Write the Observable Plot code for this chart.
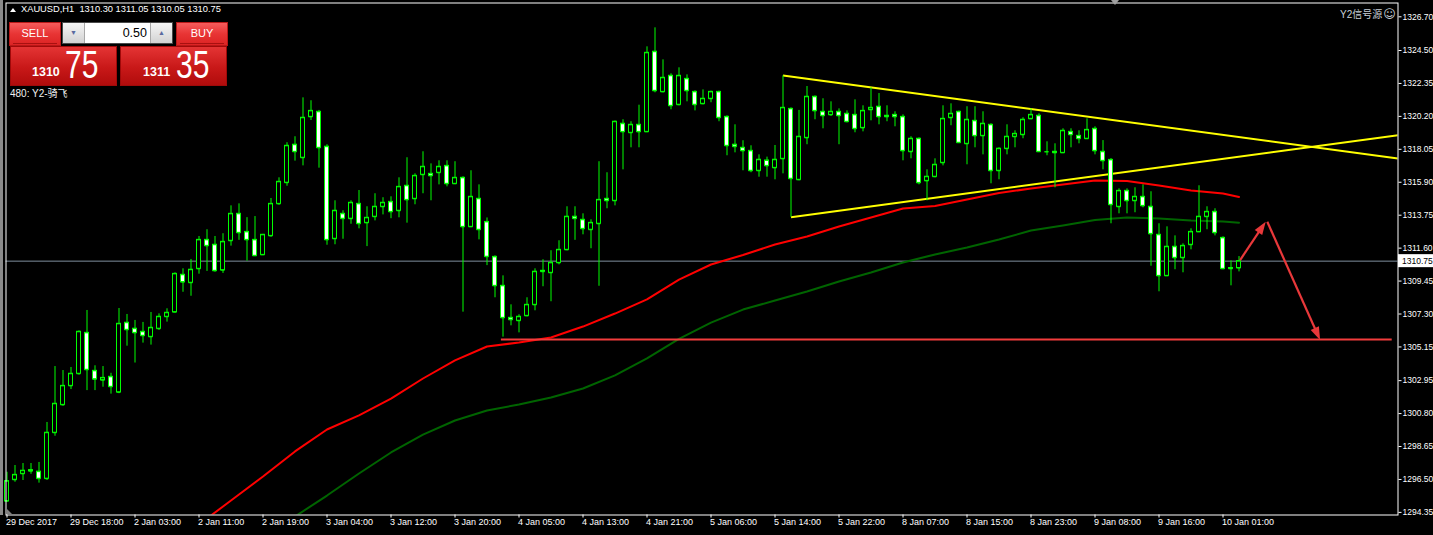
<!DOCTYPE html>
<html><head><meta charset="utf-8">
<script src="https://cdn.jsdelivr.net/npm/d3@7"></script>
<script src="https://cdn.jsdelivr.net/npm/@observablehq/plot@0.6"></script>
<style>
html,body{margin:0;padding:0;background:#000;}
#wrap{position:relative;width:1433px;height:535px;overflow:hidden;background:#000;font-family:'Liberation Sans',Arial,sans-serif;}
#chart svg{display:block}
.ov{position:absolute;white-space:pre;}
.btn{position:absolute;top:22px;height:24px;box-sizing:border-box;background:linear-gradient(#f65c5c,#e83434 50%,#dc2424);border:1px solid #b81818;color:#fff;font-size:11px;text-align:center;line-height:21px;}
.btn .ln{position:absolute;left:3px;right:3px;bottom:1px;height:1px;background:#a81010;}
.big{position:absolute;top:46px;height:40px;width:107px;box-sizing:border-box;background:linear-gradient(#e43434,#c81818 55%,#b00c0c);border:1px solid #a00a0a;color:#fff;}
.big .s{position:absolute;top:18.5px;font:bold 12.5px 'Liberation Sans',Arial,sans-serif;line-height:1;}
.big .b{position:absolute;top:-1.5px;font:38px 'Liberation Sans',Arial,sans-serif;line-height:1;transform:scaleX(0.79);transform-origin:0 0;}
#lot{position:absolute;left:62px;top:22px;width:111px;height:22px;box-sizing:border-box;border:1px solid #4a4a4a;background:#fff;}
#lot .dn,#lot .up{position:absolute;top:0;width:21px;height:20px;background:linear-gradient(#f6f6f6,#d2d2d2);color:#5a6aa0;font-size:7px;text-align:center;line-height:20px;}
#lot .dn{left:0;border-right:1px solid #a8a8a8;}
#lot .up{right:0;border-left:1px solid #a8a8a8;}
#lot .val{position:absolute;right:22px;top:0;height:20px;line-height:20px;font-size:12.5px;color:#000;padding-right:3px;}
</style></head><body>
<div id="wrap"><div id="chart"></div></div>
<script>
// ---------------- data ----------------
const symbol = "XAUUSD", timeframe = "H1";
const bidPrice = 1310.75, askPrice = 1311.35, lotSize = "0.50";
const accountLine = "480: Y2-骑飞";
const signalSource = "Y2信号源";

// hourly OHLC, bar 0 = 29 Dec 2017, last bar = 10 Jan 03:00
const opens = [
1295.08,1296.48,1296.87,1297.04,1297.01,1296.55,1299.55,1301.37,1302.61,1303.40,
1306.07,1303.59,1302.98,1303.20,1302.19,1306.73,1306.34,1306.14,1305.81,1306.34,
1307.12,1307.42,1309.86,1309.34,1310.25,1312.14,1311.82,1310.16,1312.08,1313.84,
1312.66,1312.14,1311.16,1312.40,1314.49,1315.87,1318.35,1317.50,1320.17,1320.50,
1318.22,1312.21,1313.84,1313.52,1314.49,1313.25,1313.65,1314.30,1314.62,1314.04,
1315.67,1314.82,1316.39,1316.45,1316.52,1316.97,1315.80,1316.19,1312.99,1314.82,
1313.31,1311.03,1309.14,1307.05,1306.86,1307.18,1307.90,1310.06,1309.99,1310.64,
1311.49,1313.65,1313.45,1312.80,1313.19,1314.82,1314.69,1319.72,1319.13,1319.65,
1319.19,1324.42,1321.80,1322.85,1320.96,1322.65,1321.80,1321.02,1321.35,1321.80,
1320.17,1318.35,1318.15,1317.95,1316.65,1317.32,1316.84,1317.43,1320.69,1316.06,
1318.80,1321.48,1320.50,1320.30,1320.50,1320.37,1320.30,1319.45,1320.63,1320.83,
1320.24,1320.30,1320.17,1317.89,1318.74,1315.99,1316.26,1317.17,1320.11,1320.50,
1318.41,1319.91,1318.93,1319.65,1316.65,1318.09,1318.87,1319.00,1320.04,1320.24,
1317.89,1317.89,1317.82,1319.19,1318.93,1318.74,1319.39,1317.89,1317.36,1314.30,
1315.34,1314.69,1314.95,1314.30,1312.47,1309.79,1311.69,1310.97,1311.82,1312.66,
1313.65,1313.97,1312.27,1310.25,1310.30];
const highs = [
1296.97,1297.41,1297.54,1297.54,1297.61,1300.22,1303.87,1303.61,1303.81,1306.20,
1307.53,1303.92,1303.87,1303.43,1307.66,1307.27,1306.88,1306.75,1307.40,1307.31,
1307.64,1309.99,1310.25,1310.86,1312.36,1312.80,1312.36,1312.54,1314.36,1314.49,
1313.59,1313.66,1312.50,1314.84,1316.19,1318.48,1318.87,1321.41,1321.22,1320.59,
1318.35,1314.69,1314.04,1314.69,1315.36,1314.30,1315.15,1314.89,1314.95,1316.19,
1317.50,1316.45,1317.89,1317.10,1317.30,1317.30,1317.24,1316.26,1316.65,1315.73,
1313.57,1311.10,1309.79,1307.90,1307.25,1308.36,1310.25,1310.84,1311.43,1312.08,
1314.30,1314.30,1313.84,1313.45,1317.24,1316.52,1319.90,1319.98,1319.85,1320.93,
1324.74,1325.98,1323.89,1322.98,1323.37,1322.91,1321.87,1321.93,1321.85,1321.85,
1320.24,1319.65,1318.61,1318.28,1317.69,1317.54,1318.30,1322.85,1320.76,1320.59,
1322.15,1321.54,1321.35,1321.15,1320.69,1320.56,1321.28,1320.89,1322.07,1321.69,
1320.89,1320.50,1320.30,1318.87,1318.80,1316.71,1317.43,1320.89,1321.02,1320.55,
1320.83,1320.83,1320.50,1319.72,1318.15,1319.65,1319.26,1320.11,1320.69,1320.37,
1318.54,1318.41,1319.39,1319.39,1319.26,1320.04,1319.52,1318.62,1317.45,1315.47,
1315.47,1315.54,1315.73,1315.28,1313.19,1312.99,1312.40,1311.88,1312.86,1315.67,
1314.30,1314.17,1312.34,1310.77,1311.05];
const lows = [
1295.05,1296.32,1296.43,1296.84,1296.26,1296.44,1299.32,1301.28,1302.37,1303.31,
1302.30,1302.30,1302.52,1302.07,1302.10,1305.20,1304.10,1305.40,1305.27,1306.23,
1306.77,1307.37,1308.72,1308.46,1309.90,1310.08,1310.03,1309.95,1311.73,1312.11,
1310.75,1311.05,1311.12,1312.31,1314.40,1315.64,1317.28,1316.97,1319.93,1316.82,
1311.79,1311.82,1312.18,1313.16,1312.86,1311.70,1313.38,1313.77,1313.52,1313.58,
1313.23,1314.43,1315.15,1314.69,1315.73,1315.60,1315.75,1307.42,1312.95,1312.14,
1310.46,1308.36,1305.79,1306.53,1306.07,1307.12,1307.51,1309.08,1308.10,1310.51,
1311.43,1312.11,1312.47,1311.56,1309.11,1314.17,1314.36,1316.71,1318.15,1318.15,
1319.15,1321.74,1321.74,1320.63,1320.89,1321.15,1320.56,1320.96,1321.09,1319.85,
1317.63,1317.82,1316.65,1316.52,1316.23,1316.23,1316.06,1316.45,1313.62,1316.00,
1318.35,1319.98,1319.39,1320.20,1318.35,1319.78,1319.13,1319.19,1319.91,1319.65,
1319.85,1319.52,1317.30,1317.43,1315.73,1314.69,1316.19,1316.97,1319.59,1318.45,
1317.04,1318.15,1317.69,1315.80,1316.06,1317.69,1318.15,1318.74,1319.98,1317.85,
1317.63,1315.54,1317.78,1318.15,1318.41,1318.70,1317.69,1316.71,1313.19,1313.84,
1313.84,1313.91,1314.23,1310.42,1308.75,1309.75,1310.19,1309.99,1311.49,1312.62,
1312.80,1312.40,1310.20,1309.14,1310.05];
const closes = [
1296.39,1296.80,1297.07,1297.11,1296.55,1299.55,1301.44,1302.61,1303.40,1306.14,
1303.66,1303.04,1303.13,1302.55,1306.66,1306.27,1306.07,1305.88,1306.40,1307.12,
1307.38,1309.92,1309.38,1310.19,1312.14,1311.75,1310.12,1312.01,1313.84,1312.60,
1312.14,1311.10,1312.47,1314.49,1315.93,1318.28,1317.89,1320.11,1320.56,1318.15,
1312.14,1314.04,1313.52,1314.56,1313.19,1313.58,1314.30,1314.56,1313.97,1315.60,
1314.75,1316.32,1316.91,1316.32,1316.91,1315.80,1316.19,1312.99,1314.95,1312.80,
1311.04,1309.14,1307.05,1306.92,1307.12,1307.90,1310.06,1310.12,1310.64,1311.49,
1313.65,1313.52,1312.86,1313.25,1314.75,1314.69,1319.85,1319.19,1319.65,1319.19,
1324.35,1321.87,1322.72,1320.89,1322.85,1321.87,1320.96,1321.35,1321.80,1320.11,
1318.28,1318.22,1317.95,1316.65,1317.37,1316.97,1317.37,1320.76,1316.13,1318.87,
1321.48,1320.56,1320.24,1320.50,1320.24,1319.85,1319.39,1320.56,1320.76,1320.17,
1320.17,1320.17,1317.95,1318.74,1315.86,1316.26,1317.04,1320.04,1320.37,1318.48,
1319.98,1318.93,1319.72,1316.65,1318.09,1318.87,1319.06,1319.98,1320.30,1317.89,
1317.89,1317.82,1319.26,1319.00,1318.74,1319.32,1317.95,1317.30,1314.43,1315.34,
1314.69,1314.95,1314.36,1312.53,1309.79,1311.69,1310.97,1311.75,1312.66,1313.65,
1313.97,1312.60,1310.25,1310.30,1310.75];

// moving averages read at sampled bars
const redIdx = [25,28,32,36,40,44,48,52,56,60,64,68,72,76,80,84,88,92,96,100,104,108,112,116,120,124,128,132,136,140,144,148,152,154];
const redMA  = [1293.95,1295.13,1296.69,1298.33,1299.76,1300.68,1301.78,1303.09,1304.27,1305.18,1305.44,1305.77,1306.48,1307.33,1308.25,1309.55,1310.53,1311.15,1311.84,1312.36,1313.01,1313.60,1314.19,1314.35,1314.77,1315.20,1315.49,1315.75,1316.01,1315.98,1315.69,1315.36,1315.16,1314.94];
const greenIdx = [36,40,44,48,52,56,60,64,68,72,76,80,84,88,92,96,100,104,108,112,116,120,124,128,132,136,140,144,148,152,154];
const greenMA  = [1294.08,1295.45,1296.89,1298.26,1299.43,1300.35,1301.00,1301.39,1301.85,1302.44,1303.29,1304.40,1305.67,1306.74,1307.59,1308.18,1308.77,1309.42,1310.01,1310.66,1311.19,1311.64,1312.16,1312.75,1313.08,1313.44,1313.60,1313.54,1313.41,1313.34,1313.26];

// drawn objects (bar index, price)
const trendFromIdx = [97, 98], trendFromPrice = [1322.87, 1313.62];
const trendToIdx = [173.875, 173.875], trendToPrice = [1317.45, 1318.97];
const levelPrice = 1305.64, levelFromIdx = 61.8, levelToIdx = 173.15;
const arrowFromIdx = [154.2, 157.6], arrowFromPrice = [1310.79, 1313.29];
const arrowToIdx = [157.4, 164.2], arrowToPrice = [1313.29, 1305.57];

// axes
const xTickIdx = [0,8,16,24,32,40,48,56,64,72,80,88,96,104,112,120,128,136,144,152];
const xTickLabels = ["29 Dec 2017","29 Dec 18:00","2 Jan 03:00","2 Jan 11:00","2 Jan 19:00","3 Jan 04:00","3 Jan 12:00","3 Jan 20:00","4 Jan 05:00","4 Jan 13:00","4 Jan 21:00","5 Jan 06:00","5 Jan 14:00","5 Jan 22:00","8 Jan 07:00","8 Jan 15:00","8 Jan 23:00","9 Jan 08:00","9 Jan 16:00","10 Jan 01:00"];
const yTicks = [1326.70,1324.50,1322.35,1320.20,1318.05,1315.90,1313.75,1311.60,1309.45,1307.30,1305.15,1302.95,1300.80,1298.65,1296.50,1294.35];

// ---------------- chart ----------------
const candles = opens.map((o, i) => ({i, open: o, high: highs[i], low: lows[i], close: closes[i]}));
const red = [], green = [];
redIdx.forEach((i, k) => red.push({i, v: redMA[k]}));
greenIdx.forEach((i, k) => green.push({i, v: greenMA[k]}));
const trends = trendFromIdx.map((d, k) => ({x1: d, y1: trendFromPrice[k], x2: trendToIdx[k], y2: trendToPrice[k]}));
const lime = "#00ff00", arrowRed = "#e8383a";
const lastPrice = closes[closes.length - 1];

function arrowsMark(index, scales) {
  const sx = scales.x, sy = scales.y;
  const g = d3.create("svg:g");
  arrowFromIdx.forEach((_, k) => {
    const x1 = sx(arrowFromIdx[k]), y1 = sy(arrowFromPrice[k]);
    const x2 = sx(arrowToIdx[k]), y2 = sy(arrowToPrice[k]);
    const dx = x2 - x1, dy = y2 - y1, len = Math.hypot(dx, dy);
    const ux = dx / len, uy = dy / len, L = 13, W = 4.5;
    const bx = x2 - ux * L, by = y2 - uy * L;
    g.append("line").attr("x1", x1).attr("y1", y1).attr("x2", bx + ux * 2).attr("y2", by + uy * 2)
      .attr("stroke", arrowRed).attr("stroke-width", 2.2);
    g.append("polygon").attr("points", `${x2},${y2} ${bx - uy * W},${by + ux * W} ${bx + uy * W},${by - ux * W}`)
      .attr("fill", arrowRed);
  });
  return g.node();
}
function priceBox(index, scales, values, dims) {
  const y = scales.y(lastPrice);
  const x0 = dims.width - dims.marginRight;
  const g = d3.create("svg:g");
  g.append("rect").attr("x", x0 + 0.5).attr("y", y - 6.5).attr("width", dims.marginRight).attr("height", 13).attr("fill", "#fff");
  g.append("text").attr("x", x0 + 4.5).attr("y", y).attr("dy", "0.34em").attr("fill", "#000")
    .attr("text-anchor", "start").attr("font-size", 8.5).text(lastPrice.toFixed(2));
  return g.node();
}

const chart = Plot.plot({
  width: 1433, height: 535,
  marginLeft: 5.5, marginRight: 35.5, marginTop: 2.5, marginBottom: 20.5,
  style: {background: "#000", color: "#fff", fontFamily: "'Liberation Sans', Arial, sans-serif", fontSize: "8.5px"},
  color: {type: "identity"},
  x: {type: "linear", domain: [-0.125, 173.875], ticks: xTickIdx, tickFormat: () => "", tickSize: 3, label: null},
  y: {domain: [1294.180, 1327.601], axis: "right", ticks: yTicks, tickFormat: d => d.toFixed(2), tickSize: 3, tickPadding: 1.5, label: null},
  marks: [
    Plot.ruleY([lastPrice], {stroke: "#7f8e9e", strokeWidth: 1}),
    Plot.line(green, {x: "i", y: "v", stroke: "#006400", strokeWidth: 2, clip: true}),
    Plot.line(red, {x: "i", y: "v", stroke: "#ff0000", strokeWidth: 2, clip: true}),
    Plot.ruleY([{p: levelPrice, a: levelFromIdx, b: levelToIdx}], {y: "p", x1: "a", x2: "b", stroke: "#f23c3c", strokeWidth: 2}),
    Plot.link(trends, {x1: "x1", y1: "y1", x2: "x2", y2: "y2", stroke: "#ffff00", strokeWidth: 2, clip: true}),
    Plot.ruleX(candles, {x: "i", y1: "low", y2: "high", stroke: lime, strokeWidth: 1}),
    Plot.rect(candles, {x1: d => d.i - 0.25, x2: d => d.i + 0.25, y1: "open", y2: "close",
      fill: d => d.close < d.open ? "#ffffff" : "#000000", stroke: lime, strokeWidth: 1}),
    Plot.ruleY(candles, {y: "open", x1: d => d.i - 0.25, x2: d => d.i + 0.25, stroke: lime}),
    Plot.ruleY(candles, {y: "close", x1: d => d.i - 0.25, x2: d => d.i + 0.25, stroke: lime}),
    arrowsMark,
    Plot.text(xTickIdx, {x: d => d, frameAnchor: "bottom", dy: 10, dx: -1, text: (d, k) => xTickLabels[k],
      textAnchor: "start", fill: "#fff", fontSize: 9}),
    priceBox,
    Plot.frame({stroke: "#fff"})
  ]
});
document.getElementById("chart").appendChild(chart);

// ---------------- overlays (terminal UI) ----------------
const wrap = document.getElementById("wrap");
function add(html) { wrap.insertAdjacentHTML("beforeend", html); }
const last = candles[candles.length - 1];
const f2 = v => v.toFixed(2);
add(`<div class="ov" style="left:0;top:0;width:3px;height:515px;background:#8a8a8a"></div>`);
add(`<div class="ov" style="left:10px;top:8px;width:0;height:0;border-left:3px solid transparent;border-right:3px solid transparent;border-bottom:4px solid #fff"></div>`);
add(`<div class="ov" style="left:21px;top:4px;font-size:9.3px;color:#fff">${symbol},${timeframe}  ${f2(last.open)} ${f2(last.high)} ${f2(last.low)} ${f2(last.close)}</div>`);
add(`<div class="btn" style="left:9px;width:52px">SELL<div class="ln"></div></div>`);
add(`<div class="btn" style="left:176px;width:52px">BUY<div class="ln"></div></div>`);
add(`<div id="lot"><div class="dn">▼</div><div class="val">${lotSize}</div><div class="up">▲</div></div>`);
const bidS = bidPrice.toFixed(2).split("."), askS = askPrice.toFixed(2).split(".");
add(`<div class="big" style="left:10px"><span class="s" style="left:21px">${bidS[0]}</span><span class="b" style="left:54px">${bidS[1]}</span></div>`);
add(`<div class="big" style="left:120px"><span class="s" style="left:22px">${askS[0]}</span><span class="b" style="left:55px">${askS[1]}</span></div>`);
add(`<div class="ov" style="left:10px;top:85px;font-size:10px;color:#f0f0f0;font-family:'Liberation Sans','Noto Sans CJK SC',sans-serif">${accountLine}</div>`);
add(`<div class="ov" style="left:1340px;top:6px;font-size:10px;color:#c8d0d8;font-family:'Liberation Sans','Noto Sans CJK SC',sans-serif">${signalSource}<span style="font-family:'DejaVu Sans';font-size:12px;margin-left:1px">☺</span></div>`);
add(`<div class="ov" style="left:1111px;top:0;width:0;height:0;border-left:4px solid transparent;border-right:4px solid transparent;border-top:5px solid #a0a0a0"></div>`);
add(`<div class="ov" style="left:6px;top:508px;width:0;height:0;border-left:6px solid #808080;border-top:6px solid transparent"></div>`);
</script>
</body></html>
